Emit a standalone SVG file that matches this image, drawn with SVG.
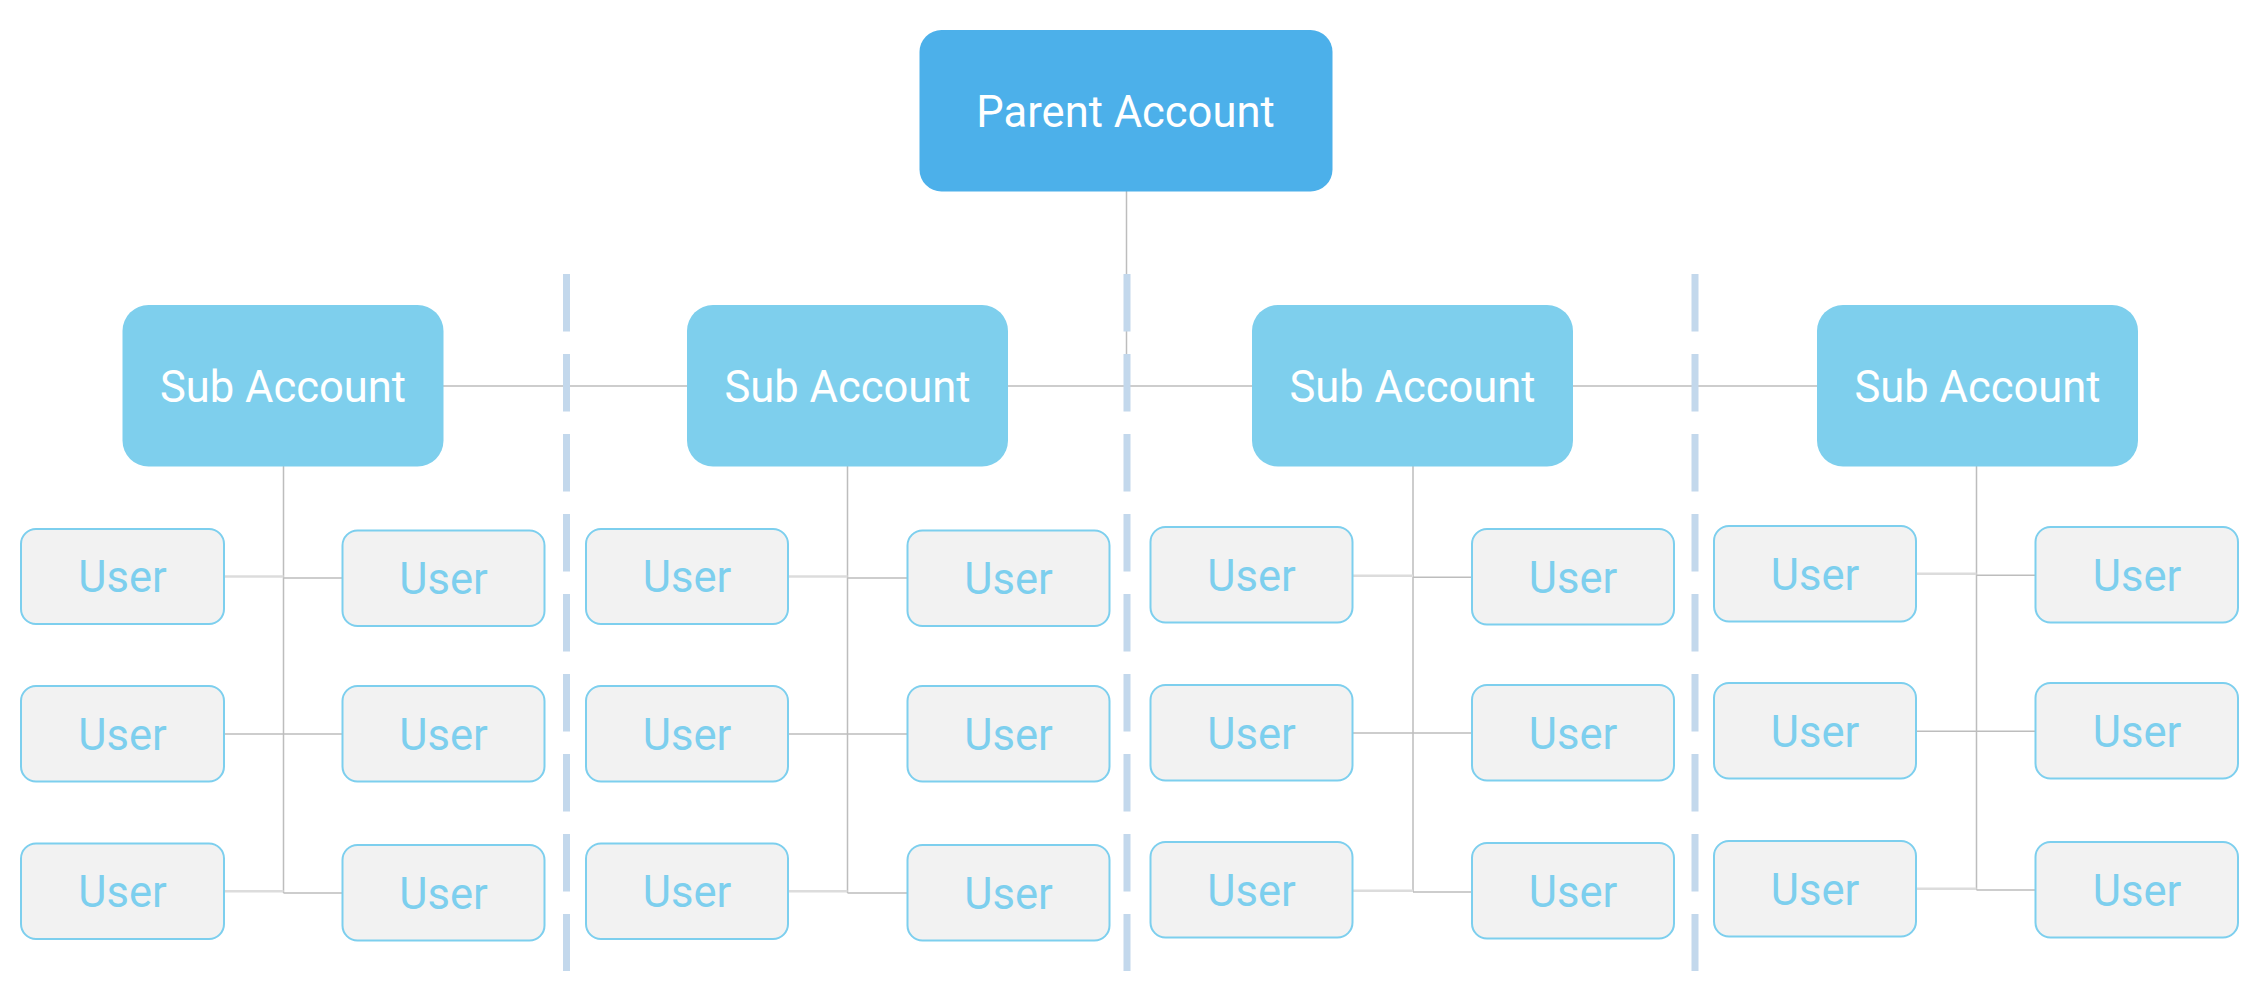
<svg xmlns="http://www.w3.org/2000/svg" width="2262" height="986" viewBox="0 0 2262 986">
<style>
.parent{fill:#4cb0ea}
.sub{fill:#7ecfed}
.user{fill:#f2f2f2;stroke:#7dcfee;stroke-width:2}
.t{font-family:Roboto,"Liberation Sans",sans-serif;font-size:43.5px;text-anchor:middle}
.tw{fill:#ffffff}
.tu{fill:#7dcfee}
.ln{stroke:#bdbdbd;stroke-width:1.5;fill:none}
.lt{stroke:#dcdcdc;stroke-width:2.5;fill:none}
.div{stroke:#c3d8ec;stroke-width:7;stroke-dasharray:57.5 22.5;fill:none}
</style>
<rect width="2262" height="986" fill="#ffffff"/>
<g id="connectors">
<line class="ln" x1="1126.5" y1="191" x2="1126.5" y2="386"/>
<line class="ln" x1="443" y1="386" x2="1818" y2="386"/>
<line class="ln" x1="283.5" y1="466" x2="283.5" y2="893"/>
<line class="ln" x1="847.5" y1="466" x2="847.5" y2="893"/>
<line class="ln" x1="1413" y1="466" x2="1413" y2="892"/>
<line class="ln" x1="1976.5" y1="466" x2="1976.5" y2="890"/>
<line class="lt" x1="224" y1="576.5" x2="283.5" y2="576.5"/>
<line class="ln" x1="283.5" y1="578" x2="342.5" y2="578"/>
<line class="ln" x1="224" y1="734" x2="342.5" y2="734"/>
<line class="lt" x1="224" y1="891.3" x2="283.5" y2="891.3"/>
<line class="ln" x1="283.5" y1="893" x2="342.5" y2="893"/>
<line class="lt" x1="788" y1="576.5" x2="847.5" y2="576.5"/>
<line class="ln" x1="847.5" y1="578" x2="907.5" y2="578"/>
<line class="ln" x1="788" y1="734" x2="907.5" y2="734"/>
<line class="lt" x1="788" y1="891.3" x2="847.5" y2="891.3"/>
<line class="ln" x1="847.5" y1="893" x2="907.5" y2="893"/>
<line class="lt" x1="1352.5" y1="575.7" x2="1413" y2="575.7"/>
<line class="ln" x1="1413" y1="577.3" x2="1472" y2="577.3"/>
<line class="ln" x1="1352.5" y1="733" x2="1472" y2="733"/>
<line class="lt" x1="1352.5" y1="890.7" x2="1413" y2="890.7"/>
<line class="ln" x1="1413" y1="892" x2="1472" y2="892"/>
<line class="lt" x1="1916" y1="573.7" x2="1976.5" y2="573.7"/>
<line class="ln" x1="1976.5" y1="575.3" x2="2035.5" y2="575.3"/>
<line class="ln" x1="1916" y1="731.3" x2="2035.5" y2="731.3"/>
<line class="lt" x1="1916" y1="888.7" x2="1976.5" y2="888.7"/>
<line class="ln" x1="1976.5" y1="890" x2="2035.5" y2="890"/>
</g>
<g id="dividers">
<line class="div" x1="566.5" y1="274" x2="566.5" y2="971"/>
<line class="div" x1="1127" y1="274" x2="1127" y2="971"/>
<line class="div" x1="1695" y1="274" x2="1695" y2="971"/>
</g>
<g id="parent">
<rect class="parent" x="919.5" y="30" width="413" height="161.5" rx="22" ry="22"/>
<text class="t tw" x="1125.5" y="127">Parent Account</text>
</g>
<g id="sub1">
<rect class="sub" x="122.5" y="305" width="321" height="161.5" rx="26" ry="26"/>
<text class="t tw" x="283" y="401.5">Sub Account</text>
</g>
<g id="sub2">
<rect class="sub" x="687" y="305" width="321" height="161.5" rx="26" ry="26"/>
<text class="t tw" x="847.5" y="401.5">Sub Account</text>
</g>
<g id="sub3">
<rect class="sub" x="1252" y="305" width="321" height="161.5" rx="26" ry="26"/>
<text class="t tw" x="1412.5" y="401.5">Sub Account</text>
</g>
<g id="sub4">
<rect class="sub" x="1817" y="305" width="321" height="161.5" rx="26" ry="26"/>
<text class="t tw" x="1977.5" y="401.5">Sub Account</text>
</g>
<g id="u1a"><rect class="user" x="21" y="529" width="203" height="95" rx="15"/><text class="t tu" x="122.5" y="592">User</text></g>
<g id="u1b"><rect class="user" x="342.5" y="530.5" width="202" height="95.5" rx="15"/><text class="t tu" x="443.5" y="594">User</text></g>
<g id="u1c"><rect class="user" x="21" y="686" width="203" height="95.5" rx="15"/><text class="t tu" x="122.5" y="749.5">User</text></g>
<g id="u1d"><rect class="user" x="342.5" y="686" width="202" height="95.5" rx="15"/><text class="t tu" x="443.5" y="749.5">User</text></g>
<g id="u1e"><rect class="user" x="21" y="843.5" width="203" height="95.5" rx="15"/><text class="t tu" x="122.5" y="907">User</text></g>
<g id="u1f"><rect class="user" x="342.5" y="845" width="202" height="95.5" rx="15"/><text class="t tu" x="443.5" y="909">User</text></g>
<g id="u2a"><rect class="user" x="586" y="529" width="202" height="95" rx="15"/><text class="t tu" x="687" y="592">User</text></g>
<g id="u2b"><rect class="user" x="907.5" y="530.5" width="202" height="95.5" rx="15"/><text class="t tu" x="1008.5" y="594">User</text></g>
<g id="u2c"><rect class="user" x="586" y="686" width="202" height="95.5" rx="15"/><text class="t tu" x="687" y="749.5">User</text></g>
<g id="u2d"><rect class="user" x="907.5" y="686" width="202" height="95.5" rx="15"/><text class="t tu" x="1008.5" y="749.5">User</text></g>
<g id="u2e"><rect class="user" x="586" y="843.5" width="202" height="95.5" rx="15"/><text class="t tu" x="687" y="907">User</text></g>
<g id="u2f"><rect class="user" x="907.5" y="845" width="202" height="95.5" rx="15"/><text class="t tu" x="1008.5" y="909">User</text></g>
<g id="u3a"><rect class="user" x="1150.5" y="527" width="202" height="95.5" rx="15"/><text class="t tu" x="1251.5" y="590.5">User</text></g>
<g id="u3b"><rect class="user" x="1472" y="529" width="202" height="95.5" rx="15"/><text class="t tu" x="1573" y="592.5">User</text></g>
<g id="u3c"><rect class="user" x="1150.5" y="685" width="202" height="95.5" rx="15"/><text class="t tu" x="1251.5" y="748.5">User</text></g>
<g id="u3d"><rect class="user" x="1472" y="685" width="202" height="95.5" rx="15"/><text class="t tu" x="1573" y="748.5">User</text></g>
<g id="u3e"><rect class="user" x="1150.5" y="842" width="202" height="95.5" rx="15"/><text class="t tu" x="1251.5" y="905.5">User</text></g>
<g id="u3f"><rect class="user" x="1472" y="843" width="202" height="95.5" rx="15"/><text class="t tu" x="1573" y="906.5">User</text></g>
<g id="u4a"><rect class="user" x="1714" y="526" width="202" height="95.5" rx="15"/><text class="t tu" x="1815" y="589.5">User</text></g>
<g id="u4b"><rect class="user" x="2035.5" y="527" width="202.5" height="95.5" rx="15"/><text class="t tu" x="2137" y="590.5">User</text></g>
<g id="u4c"><rect class="user" x="1714" y="683" width="202" height="95.5" rx="15"/><text class="t tu" x="1815" y="746.5">User</text></g>
<g id="u4d"><rect class="user" x="2035.5" y="683" width="202.5" height="95.5" rx="15"/><text class="t tu" x="2137" y="746.5">User</text></g>
<g id="u4e"><rect class="user" x="1714" y="841" width="202" height="95.5" rx="15"/><text class="t tu" x="1815" y="904.5">User</text></g>
<g id="u4f"><rect class="user" x="2035.5" y="842" width="202.5" height="95.5" rx="15"/><text class="t tu" x="2137" y="905.5">User</text></g>
</svg>
